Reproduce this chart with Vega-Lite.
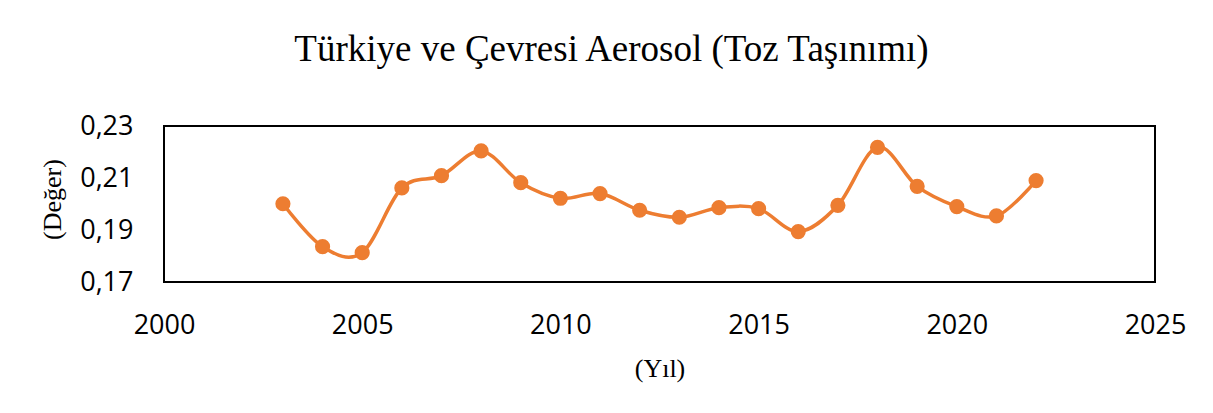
{
  "$schema": "https://vega.github.io/schema/vega-lite/v6.json",
  "width": 991,
  "height": 156,
  "autosize": "none",
  "padding": {"left": 164, "top": 126, "right": 58, "bottom": 131},
  "background": "white",
  "config": {
    "view": {"stroke": "black", "strokeWidth": 2},
    "axis": {"grid": false, "domain": false, "ticks": false}
  },
  "title": {
    "text": "Türkiye ve Çevresi Aerosol (Toz Taşınımı)",
    "font": "Liberation Serif",
    "fontSize": 37,
    "fontWeight": "normal",
    "color": "black",
    "anchor": "middle",
    "frame": "group",
    "baseline": "alphabetic",
    "offset": 14,
    "dx": -48
  },
  "data": {
    "values": [
      {"year": 2003, "value": 0.2001},
      {"year": 2004, "value": 0.1836},
      {"year": 2005, "value": 0.1813},
      {"year": 2006, "value": 0.2062},
      {"year": 2007, "value": 0.2109},
      {"year": 2008, "value": 0.2204},
      {"year": 2009, "value": 0.2082},
      {"year": 2010, "value": 0.2022},
      {"year": 2011, "value": 0.2040},
      {"year": 2012, "value": 0.1976},
      {"year": 2013, "value": 0.1949},
      {"year": 2014, "value": 0.1986},
      {"year": 2015, "value": 0.1982},
      {"year": 2016, "value": 0.1894},
      {"year": 2017, "value": 0.1995},
      {"year": 2018, "value": 0.2218},
      {"year": 2019, "value": 0.2068},
      {"year": 2020, "value": 0.1990},
      {"year": 2021, "value": 0.1954},
      {"year": 2022, "value": 0.2090}
    ]
  },
  "encoding": {
    "x": {
      "field": "year",
      "type": "quantitative",
      "scale": {"domain": [2000, 2025], "nice": false, "zero": false},
      "axis": {
        "values": [2000, 2005, 2010, 2015, 2020, 2025],
        "format": "d",
        "labelFont": "Open Sans",
        "labelFontSize": 27,
        "labelColor": "black",
        "labelBaseline": "alphabetic",
        "labelPadding": 51,
        "labelFlush": false,
        "labelOverlap": false,
        "title": "(Yıl)",
        "titleFont": "Liberation Serif",
        "titleFontSize": 26,
        "titleFontWeight": "normal",
        "titleColor": "black",
        "titleBaseline": "alphabetic",
        "titleY": 94
      }
    },
    "y": {
      "field": "value",
      "type": "quantitative",
      "scale": {"domain": [0.17, 0.23], "nice": false, "zero": false},
      "axis": {
        "values": [0.17, 0.19, 0.21, 0.23],
        "labelExpr": "replace(format(datum.value, '.2f'), '.', ',')",
        "labelFont": "Open Sans",
        "labelFontSize": 27,
        "labelColor": "black",
        "labelPadding": 31,
        "labelFlush": false,
        "labelOverlap": false,
        "title": "(Değer)",
        "titleFont": "Liberation Serif",
        "titleFontSize": 26,
        "titleFontWeight": "normal",
        "titleColor": "black",
        "titleAngle": -90,
        "titleAlign": "center",
        "titleBaseline": "middle",
        "titleX": -112,
        "titleY": 73
      }
    }
  },
  "layer": [
    {"mark": {"type": "line", "interpolate": "cardinal", "tension": 0, "color": "#ED7D31", "strokeWidth": 3.5}},
    {"mark": {"type": "point", "filled": true, "size": 230, "color": "#ED7D31", "opacity": 1}}
  ]
}
